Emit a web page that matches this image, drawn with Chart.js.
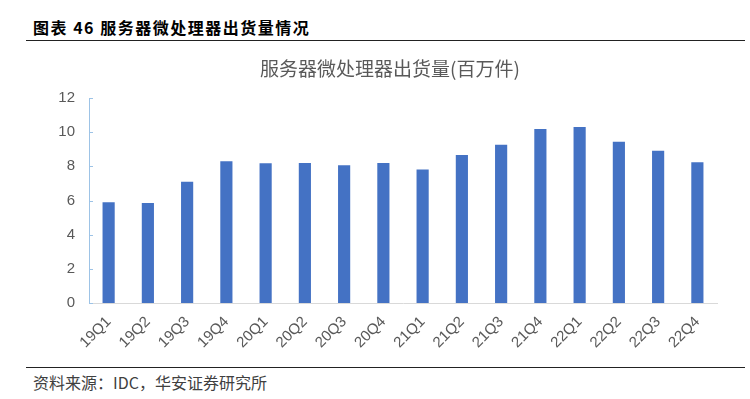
<!DOCTYPE html>
<html>
<head>
<meta charset="utf-8">
<script src="https://cdn.jsdelivr.net/npm/chart.js@4"></script>
<style>
  body { margin: 0; width: 750px; height: 399px; background: #fff; position: relative; overflow: hidden; }
  .head { position: absolute; left: 33px; top: 15px; font: bold 16px "Noto Sans CJK SC", sans-serif; letter-spacing: 1.5px; color: #000; }
  .rule { position: absolute; left: 26px; width: 719px; height: 0; border-top: 1.5px solid #222; }
  .title { position: absolute; left: 190px; width: 400px; top: 56px; text-align: center; font: 19px "Noto Sans CJK SC", sans-serif; color: #595959; line-height: 24px; }
  .foot { position: absolute; left: 33px; top: 370px; font: 16px "Noto Sans CJK SC", sans-serif; color: #404040; }
  #wrap { position: absolute; left: 0; top: 45px; width: 750px; height: 320px; }
</style>
</head>
<body>
<div class="head">图表 46 服务器微处理器出货量情况</div>
<div class="rule" style="top:40px"></div>
<div id="wrap"><canvas id="myChart"></canvas></div>
<div class="title">服务器微处理器出货量(百万件)</div>
<div class="rule" style="top:367px"></div>
<div class="foot">资料来源：IDC，华安证券研究所</div>
<script>
const quarters = ['19Q1', '19Q2', '19Q3', '19Q4', '20Q1', '20Q2', '20Q3', '20Q4',
  '21Q1', '21Q2', '21Q3', '21Q4', '22Q1', '22Q2', '22Q3', '22Q4'];
const shipments = [5.9, 5.85, 7.1, 8.3, 8.18, 8.2, 8.07, 8.2,
  7.81, 8.67, 9.26, 10.18, 10.3, 9.44, 8.91, 8.24];
const yTicks = [0, 2, 4, 6, 8, 10, 12];

// small tick marks on the inside of the y axis
const innerTicks = {
  id: 'innerTicks',
  afterDraw(chart) {
    const y = chart.scales.y;
    const c = chart.ctx;
    c.save();
    c.strokeStyle = '#9DC3E6';
    c.lineWidth = 1;
    yTicks.forEach((v) => {
      const py = Math.round(y.getPixelForValue(v)) + 0.5;
      c.beginPath();
      c.moveTo(y.right, py);
      c.lineTo(y.right + 4, py);
      c.stroke();
    });
    c.restore();
  },
};

const ctx = document.getElementById('myChart');

new Chart(ctx, {
  type: 'bar',
  data: {
    labels: quarters,
    datasets: [
      {
        label: '服务器微处理器出货量',
        data: shipments,
        backgroundColor: '#4472C4',
        borderWidth: 0,
        barPercentage: 0.31,
        categoryPercentage: 1,
      },
    ],
  },
  plugins: [innerTicks],
  options: {
    responsive: true,
    maintainAspectRatio: false,
    animation: false,
    layout: { padding: { left: 0, right: 33, top: 53, bottom: 0 } },
    plugins: {
      legend: { display: false },
      tooltip: { enabled: false },
    },
    scales: {
      x: {
        grid: { display: false, drawTicks: false },
        border: { color: '#D9D9D9', width: 1 },
        ticks: {
          color: '#595959',
          font: { family: '"Liberation Sans", Arial, sans-serif', size: 15 },
          minRotation: 45,
          maxRotation: 45,
          padding: 10,
        },
        afterFit: (s) => { s.height = 62; },
      },
      y: {
        min: 0,
        max: 12,
        afterBuildTicks: (s) => { s.ticks = yTicks.map((v) => ({ value: v })); },
        grid: { display: false, drawTicks: false },
        border: { color: '#9DC3E6', width: 1 },
        ticks: {
          color: '#595959',
          font: { family: '"Liberation Sans", Arial, sans-serif', size: 15 },
          padding: 14,
        },
        afterFit: (s) => { s.width = 89; },
      },
    },
  },
});
</script>
</body>
</html>
